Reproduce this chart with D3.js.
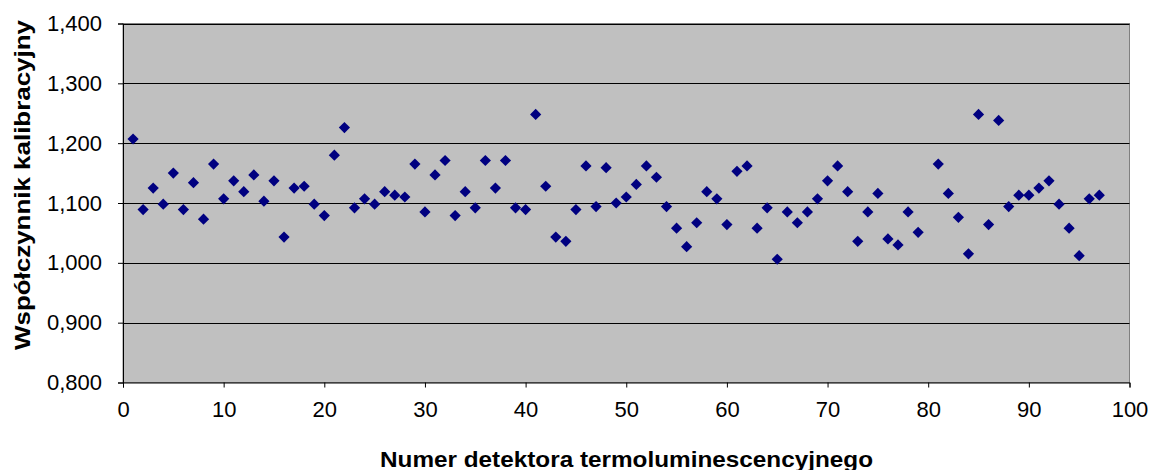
<!DOCTYPE html>
<html>
<head>
<meta charset="utf-8">
<script src="https://cdn.jsdelivr.net/npm/d3@7"></script>
<style>
  html, body { margin: 0; padding: 0; background: #ffffff; }
  svg { display: block; }
  text { font-family: "Liberation Sans", Arial, sans-serif; fill: #000; }
</style>
</head>
<body>
<svg id="chart" width="1152" height="470"></svg>
<script>
// Detector numbers (detector 80 has no reading)
const detectors = [
  1, 2, 3, 4, 5, 6, 7, 8, 9, 10,
  11, 12, 13, 14, 15, 16, 17, 18, 19, 20,
  21, 22, 23, 24, 25, 26, 27, 28, 29, 30,
  31, 32, 33, 34, 35, 36, 37, 38, 39, 40,
  41, 42, 43, 44, 45, 46, 47, 48, 49, 50,
  51, 52, 53, 54, 55, 56, 57, 58, 59, 60,
  61, 62, 63, 64, 65, 66, 67, 68, 69, 70,
  71, 72, 73, 74, 75, 76, 77, 78, 79,
  81, 82, 83, 84, 85, 86, 87, 88, 89, 90,
  91, 92, 93, 94, 95, 96, 97
];

// Calibration coefficient for each detector
const coefficients = [
  1.207, 1.089, 1.125, 1.098, 1.150, 1.089, 1.134, 1.073, 1.165, 1.107,
  1.137, 1.119, 1.147, 1.103, 1.137, 1.043, 1.125, 1.128, 1.098, 1.079,
  1.180, 1.226, 1.092, 1.107, 1.098, 1.119, 1.113, 1.110, 1.165, 1.085,
  1.147, 1.171, 1.079, 1.119, 1.092, 1.171, 1.125, 1.171, 1.092, 1.089,
  1.248, 1.128, 1.043, 1.036, 1.089, 1.162, 1.094, 1.159, 1.100, 1.110,
  1.131, 1.162, 1.143, 1.094, 1.058, 1.027, 1.067, 1.119, 1.107, 1.064,
  1.153, 1.162, 1.058, 1.092, 1.006, 1.085, 1.067, 1.085, 1.107, 1.137,
  1.162, 1.119, 1.036, 1.085, 1.116, 1.040, 1.030, 1.085, 1.051,
  1.165, 1.116, 1.076, 1.015, 1.248, 1.064, 1.238, 1.094, 1.113, 1.113,
  1.125, 1.137, 1.098, 1.058, 1.012, 1.107, 1.113
];

const xTickValues = [0, 10, 20, 30, 40, 50, 60, 70, 80, 90, 100];
const yTickValues = [0.8, 0.9, 1.0, 1.1, 1.2, 1.3, 1.4];

const svg = d3.select("#chart");
const plot = { left: 123, right: 1129.5, top: 23.5, bottom: 382.5 };

const x = d3.scaleLinear().domain([0, 100]).range([plot.left, plot.right]);
const y = d3.scaleLinear().domain([0.8, 1.4]).range([plot.bottom, plot.top]);

// Plot area background
svg.append("rect")
  .attr("x", plot.left).attr("y", plot.top)
  .attr("width", plot.right - plot.left).attr("height", plot.bottom - plot.top)
  .attr("fill", "#c0c0c0")
  .attr("stroke", "#808080")
  .attr("stroke-width", 1);

// Horizontal gridlines
svg.append("g")
  .selectAll("line")
  .data(yTickValues.filter(v => v > 0.8))
  .join("line")
  .attr("x1", plot.left).attr("x2", plot.right)
  .attr("y1", d => Math.round(y(d)) + 0.5).attr("y2", d => Math.round(y(d)) + 0.5)
  .attr("stroke", "#000")
  .attr("stroke-width", 1);

// Decimal comma, three decimals: 1,400
const fmt = v => d3.format(".3f")(v).replace(".", ",");

// Y axis
const yAxis = svg.append("g")
  .attr("transform", `translate(${plot.left},0)`)
  .call(d3.axisLeft(y).tickValues(yTickValues).tickFormat(fmt).tickSize(5).tickPadding(16));
yAxis.select(".domain").attr("stroke", "#000");
yAxis.selectAll(".tick line").attr("stroke", "#000");
yAxis.selectAll(".tick text")
  .attr("font-size", 22)
  .attr("font-family", "Liberation Sans, Arial, sans-serif")
  .attr("fill", "#000");

// X axis
const xAxis = svg.append("g")
  .attr("transform", `translate(0,${plot.bottom})`)
  .call(d3.axisBottom(x).tickValues(xTickValues).tickFormat(d3.format("d")).tickSize(5).tickPadding(14));
xAxis.select(".domain").attr("stroke", "#000");
xAxis.selectAll(".tick line").attr("stroke", "#000");
xAxis.selectAll(".tick text")
  .attr("font-size", 22)
  .attr("font-family", "Liberation Sans, Arial, sans-serif")
  .attr("fill", "#000");

// Diamond markers
const diamond = d3.symbol().type(d3.symbolDiamond2).size(80);
svg.append("g")
  .selectAll("path")
  .data(detectors.map((d, i) => ({ n: d, v: coefficients[i] })))
  .join("path")
  .attr("d", diamond)
  .attr("transform", d => `translate(${x(d.n)},${y(d.v)})`)
  .attr("fill", "#000080");

// Axis titles
svg.append("text")
  .attr("x", 626.5)
  .attr("y", 467)
  .attr("text-anchor", "middle")
  .attr("font-size", 22)
  .attr("font-weight", "bold")
  .attr("textLength", 493)
  .attr("lengthAdjust", "spacingAndGlyphs")
  .text("Numer detektora termoluminescencyjnego");

svg.append("text")
  .attr("transform", "translate(29.5,185) rotate(-90)")
  .attr("text-anchor", "middle")
  .attr("font-size", 22)
  .attr("font-weight", "bold")
  .attr("textLength", 330)
  .attr("lengthAdjust", "spacingAndGlyphs")
  .text("Współczynnik kalibracyjny");
</script>
</body>
</html>
